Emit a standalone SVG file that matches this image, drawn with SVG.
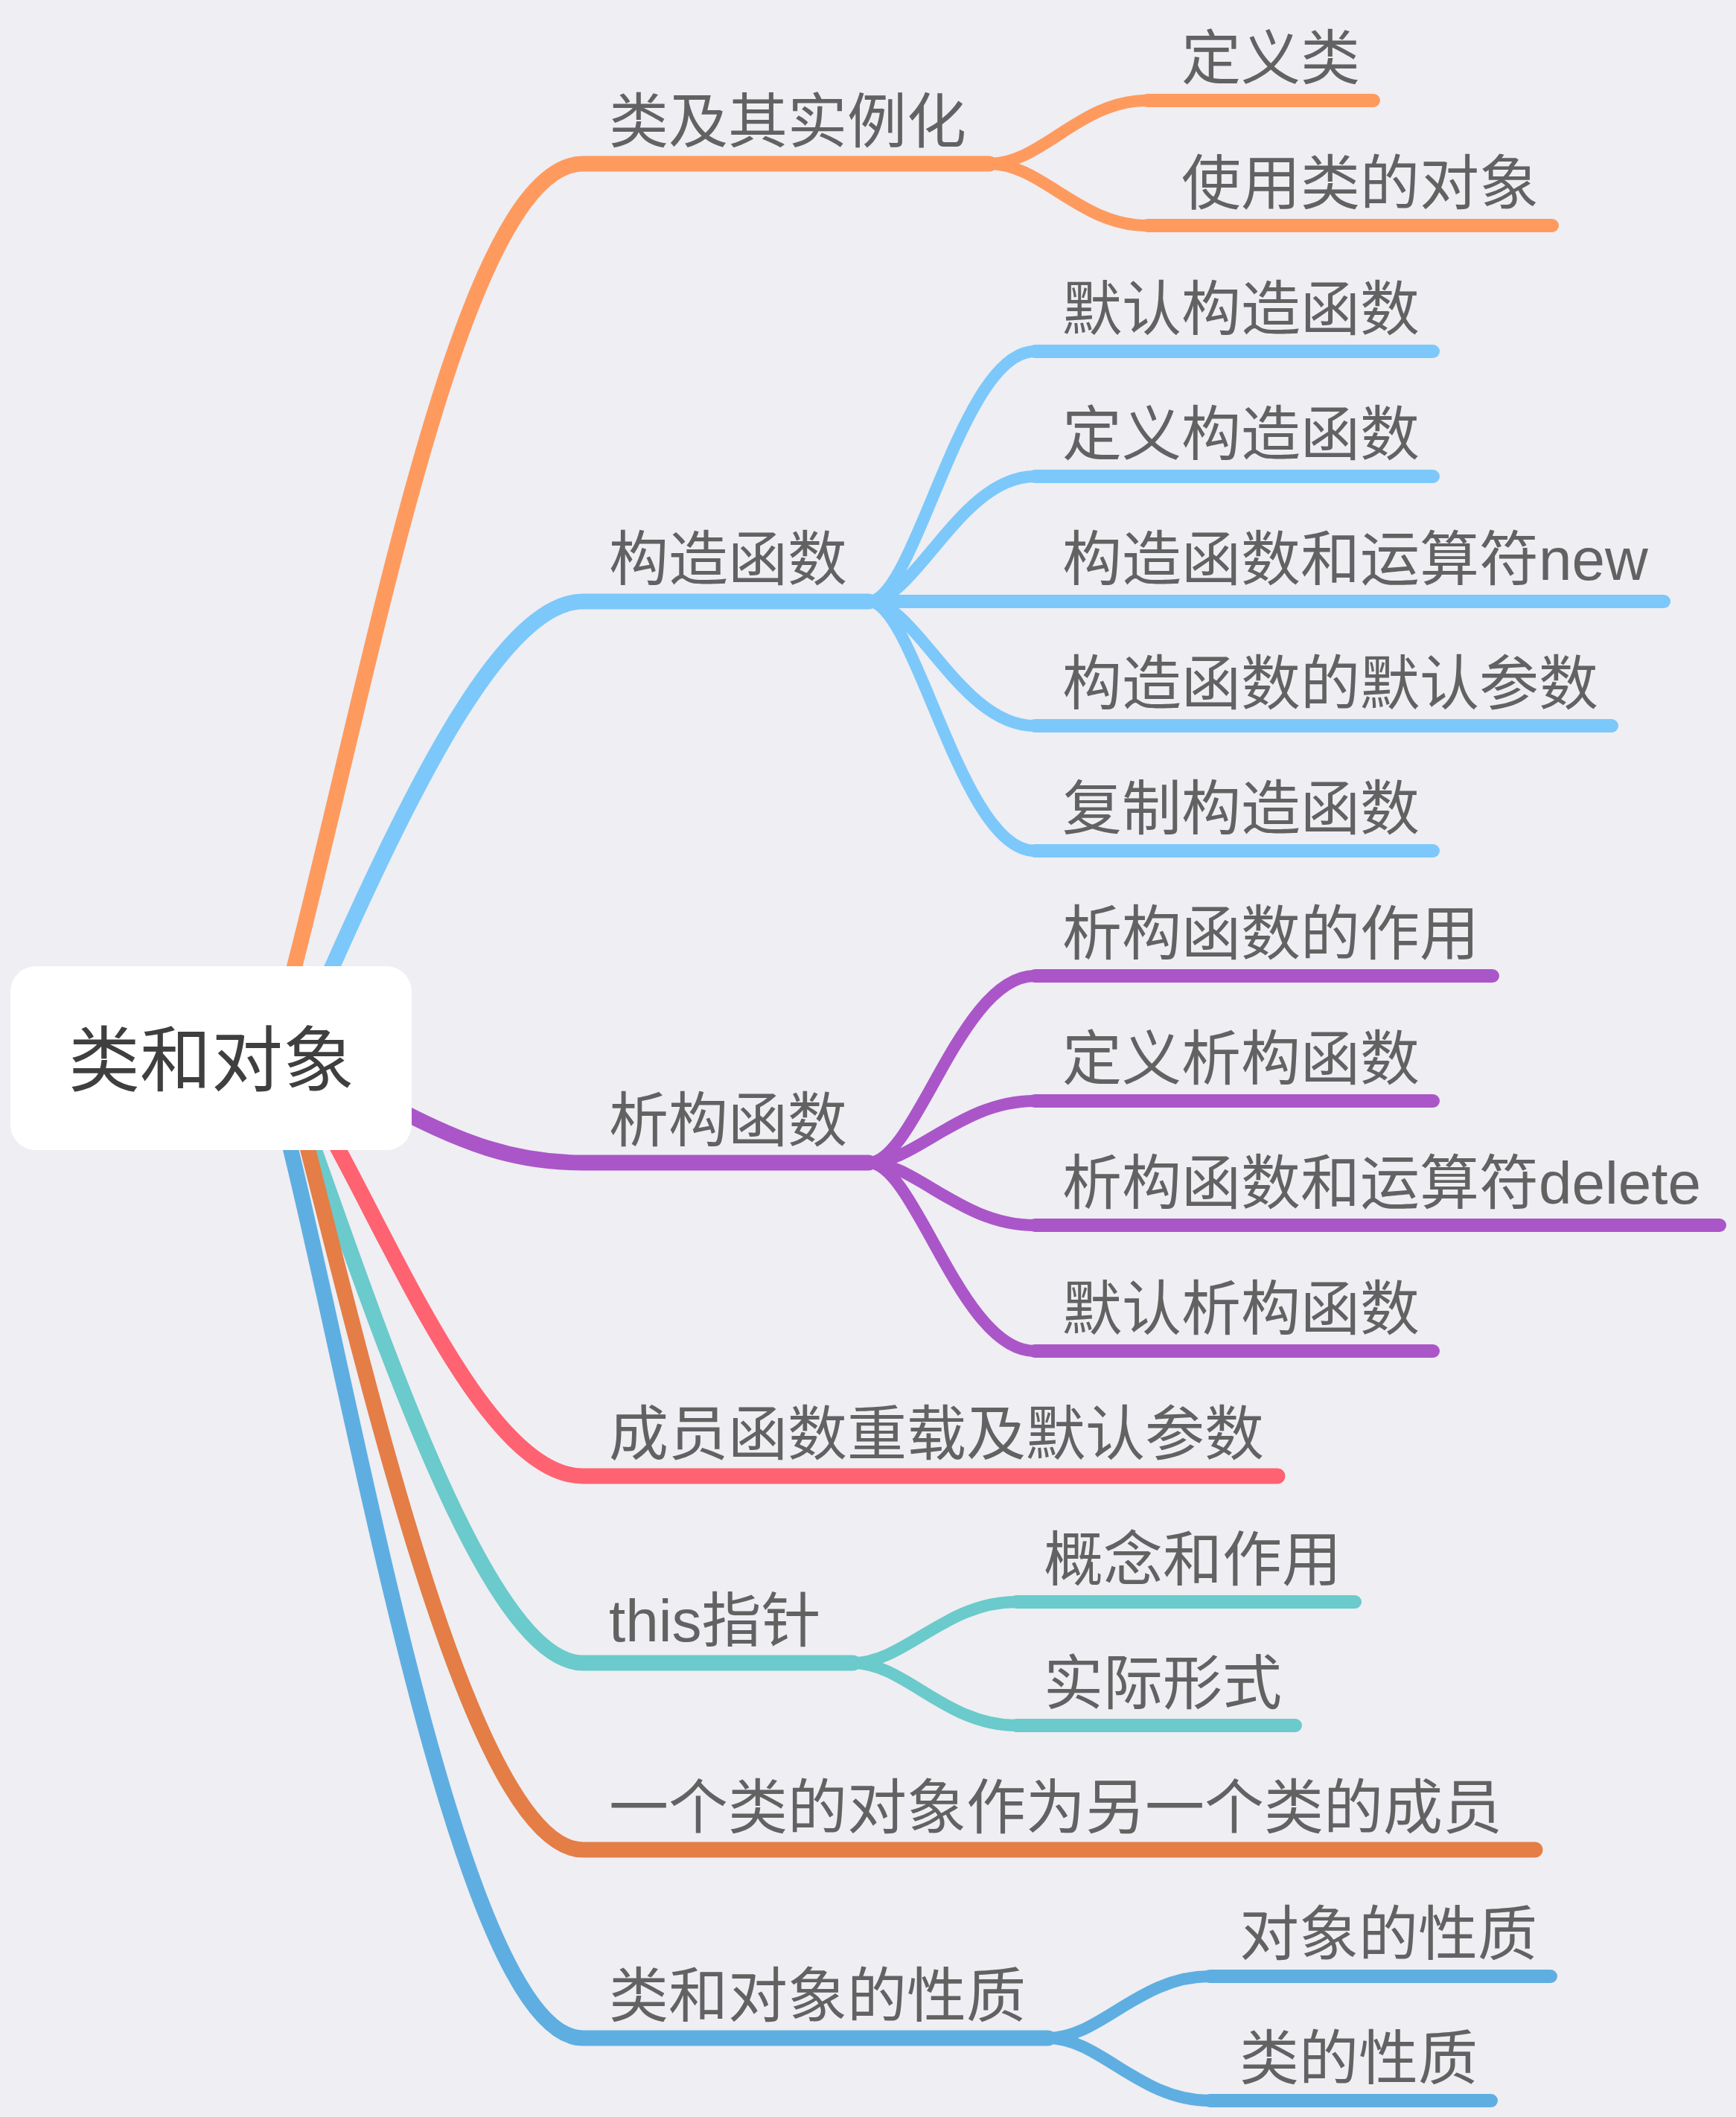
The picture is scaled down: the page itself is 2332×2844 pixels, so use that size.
<svg xmlns="http://www.w3.org/2000/svg" width="2332" height="2844" viewBox="0 0 2332 2844">
<style>
.t{font-family:"Liberation Sans","Noto Sans CJK SC",sans-serif;font-size:80px;fill:#626262}
.root{font-family:"Liberation Sans","Noto Sans CJK SC",sans-serif;font-size:96px;fill:#3f3f3f}
.m{fill:none;stroke-width:21;stroke-linecap:round}
.c{fill:none;stroke-width:16;stroke-linecap:round}
.u{fill:none;stroke-width:18;stroke-linecap:round}
.or{stroke:#FF9A5E}.lb{stroke:#7CC8FA}.pu{stroke:#AA56C8}.rd{stroke:#FF6270}.te{stroke:#6BCACB}.do{stroke:#E47D46}.bl{stroke:#5EAEE2}
</style>
<rect x="0" y="0" width="2332" height="2844" fill="#EEEEF3"/>
<g id="connectors">
  <path class="m or" d="M 390 1320 C 500 900 620 220 783 220 H 1329"/>
  <path class="m lb" d="M 437 1320 C 560 1040 680 808 783 808 H 1167"/>
  <path class="m pu" d="M 530 1488 C 620 1535 690 1562 783 1562 H 1167"/>
  <path class="m rd" d="M 447 1530 C 540 1700 660 1983 783 1983 H 1716"/>
  <path class="m te" d="M 417 1530 C 520 1820 660 2234 783 2234 H 1146"/>
  <path class="m do" d="M 410 1530 C 500 1880 640 2485 783 2485 H 2062"/>
  <path class="m bl" d="M 387 1530 C 480 1900 620 2738 783 2738 H 1408"/>

  <path class="c or" d="M 1329 220 C 1400 220 1450 135 1541 135"/>
  <path class="u or" d="M 1541 135 H 1845"/>
  <path class="c or" d="M 1329 220 C 1400 220 1450 303 1541 303"/>
  <path class="u or" d="M 1541 303 H 2085"/>

  <path class="c lb" d="M 1167 808 C 1230 808 1290 472 1390 472"/>
  <path class="u lb" d="M 1390 472 H 1925"/>
  <path class="c lb" d="M 1167 808 C 1230 808 1290 640 1390 640"/>
  <path class="u lb" d="M 1390 640 H 1925"/>
  <path class="u lb" d="M 1167 808 H 2235"/>
  <path class="c lb" d="M 1167 808 C 1230 808 1290 975 1390 975"/>
  <path class="u lb" d="M 1390 975 H 2165"/>
  <path class="c lb" d="M 1167 808 C 1230 808 1290 1143 1390 1143"/>
  <path class="u lb" d="M 1390 1143 H 1925"/>

  <path class="c pu" d="M 1167 1562 C 1230 1562 1290 1311 1390 1311"/>
  <path class="u pu" d="M 1390 1311 H 2005"/>
  <path class="c pu" d="M 1167 1562 C 1230 1562 1290 1479 1390 1479"/>
  <path class="u pu" d="M 1390 1479 H 1925"/>
  <path class="c pu" d="M 1167 1562 C 1230 1562 1290 1646 1390 1646"/>
  <path class="u pu" d="M 1390 1646 H 2310"/>
  <path class="c pu" d="M 1167 1562 C 1230 1562 1290 1815 1390 1815"/>
  <path class="u pu" d="M 1390 1815 H 1925"/>

  <path class="c te" d="M 1146 2234 C 1215 2234 1270 2152 1365 2152"/>
  <path class="u te" d="M 1365 2152 H 1820"/>
  <path class="c te" d="M 1146 2234 C 1215 2234 1270 2318 1365 2318"/>
  <path class="u te" d="M 1365 2318 H 1740"/>

  <path class="c bl" d="M 1408 2738 C 1478 2738 1530 2655 1625 2655"/>
  <path class="u bl" d="M 1625 2655 H 2083"/>
  <path class="c bl" d="M 1408 2738 C 1478 2738 1530 2822 1625 2822"/>
  <path class="u bl" d="M 1625 2822 H 2003"/>
</g>
<g id="root">
  <rect x="14" y="1298" width="539" height="247" rx="34" fill="#FFFFFF"/>
  <text class="root" x="284" y="1458" text-anchor="middle">类和对象</text>
</g>
<g id="n1"><text class="t" x="818" y="191">类及其实例化</text></g>
<g id="n1a"><text class="t" x="1587" y="106">定义类</text></g>
<g id="n1b"><text class="t" x="1587" y="274">使用类的对象</text></g>
<g id="n2"><text class="t" x="818" y="779">构造函数</text></g>
<g id="n2a"><text class="t" x="1427" y="443">默认构造函数</text></g>
<g id="n2b"><text class="t" x="1427" y="611">定义构造函数</text></g>
<g id="n2c"><text class="t" x="1427" y="779">构造函数和运算符new</text></g>
<g id="n2d"><text class="t" x="1427" y="946">构造函数的默认参数</text></g>
<g id="n2e"><text class="t" x="1427" y="1114">复制构造函数</text></g>
<g id="n3"><text class="t" x="818" y="1533">析构函数</text></g>
<g id="n3a"><text class="t" x="1427" y="1282">析构函数的作用</text></g>
<g id="n3b"><text class="t" x="1427" y="1450">定义析构函数</text></g>
<g id="n3c"><text class="t" x="1427" y="1617">析构函数和运算符delete</text></g>
<g id="n3d"><text class="t" x="1427" y="1786">默认析构函数</text></g>
<g id="n4"><text class="t" x="818" y="1954">成员函数重载及默认参数</text></g>
<g id="n5"><text class="t" x="818" y="2205">this指针</text></g>
<g id="n5a"><text class="t" x="1402" y="2123">概念和作用</text></g>
<g id="n5b"><text class="t" x="1402" y="2289">实际形式</text></g>
<g id="n6"><text class="t" x="818" y="2456">一个类的对象作为另一个类的成员</text></g>
<g id="n7"><text class="t" x="818" y="2709">类和对象的性质</text></g>
<g id="n7a"><text class="t" x="1665" y="2626">对象的性质</text></g>
<g id="n7b"><text class="t" x="1665" y="2793">类的性质</text></g>
</svg>
